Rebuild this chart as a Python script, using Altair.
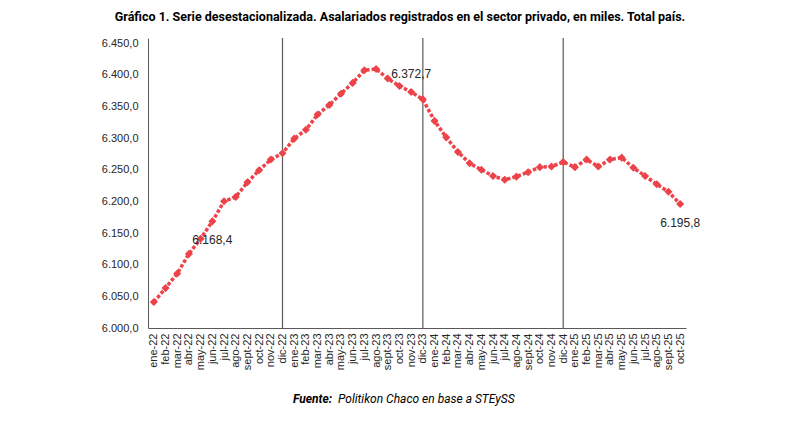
import altair as alt
import pandas as pd

months = [
    "ene-22", "feb-22", "mar-22", "abr-22", "may-22", "jun-22", "jul-22", "ago-22", "sept-22", "oct-22", "nov-22", "dic-22",
    "ene-23", "feb-23", "mar-23", "abr-23", "may-23", "jun-23", "jul-23", "ago-23", "sept-23", "oct-23", "nov-23", "dic-23",
    "ene-24", "feb-24", "mar-24", "abr-24", "may-24", "jun-24", "jul-24", "ago-24", "sept-24", "oct-24", "nov-24", "dic-24",
    "ene-25", "feb-25", "mar-25", "abr-25", "may-25", "jun-25", "jul-25", "ago-25", "sept-25", "oct-25",
]
values = [
    6041.0, 6063.0, 6086.0, 6117.0, 6141.0, 6168.4, 6200.0, 6207.0, 6230.0, 6249.0, 6266.0, 6276.0,
    6299.0, 6313.0, 6337.0, 6352.0, 6370.0, 6387.0, 6407.0, 6409.0, 6394.0, 6382.0, 6372.7, 6361.0,
    6327.0, 6301.0, 6278.0, 6260.0, 6250.0, 6240.0, 6234.0, 6239.0, 6246.0, 6254.0, 6255.0, 6262.0,
    6254.0, 6266.0, 6255.0, 6266.0, 6269.0, 6253.0, 6240.0, 6227.0, 6215.0, 6195.8,
]
labels_below = ["jun-22", "oct-25"]
labels_above = ["nov-23"]
year_breaks = ["dic-22", "dic-23", "dic-24"]
y_ticks = [6000, 6050, 6100, 6150, 6200, 6250, 6300, 6350, 6400, 6450]

title_text = "Gráfico 1. Serie desestacionalizada. Asalariados registrados en el sector privado, en miles. Total país."
source_bold = "Fuente:"
source_rest = "Politikon Chaco en base a STEySS"


def es_fmt(v):
    s = f"{v:,.1f}"
    return s.replace(",", "#").replace(".", ",").replace("#", ".")


df = pd.DataFrame({"mes": months, "valor": values})
df["etiqueta"] = [es_fmt(v) for v in values]
df["below"] = df["mes"].isin(labels_below)
df["above"] = df["mes"].isin(labels_above)

breaks_df = pd.DataFrame({"mes": year_breaks})

RED = "#EC434A"
W, H = 538, 290

x_enc = alt.X(
    "mes:O",
    sort=months,
    scale=alt.Scale(type="point", padding=0.5),
    axis=alt.Axis(
        title=None, labelAngle=-90, labelFontSize=11, labelColor="#262626",
        labelFont="Liberation Sans", ticks=False, domainColor="#595959",
        labelPadding=5, labelBaseline="middle", labelOverlap=False,
    ),
)
y_enc = alt.Y(
    "valor:Q",
    scale=alt.Scale(domain=[6000, 6457.9], nice=False, zero=False),
    axis=alt.Axis(
        title=None, values=y_ticks, grid=False, ticks=False, domainColor="#595959",
        labelFontSize=11, labelColor="#262626", labelFont="Liberation Sans", labelPadding=10,
        labelOverlap=False,
        labelExpr="replace(replace(replace(format(datum.value, ',.1f'), ',', '#'), '.', ','), '#', '.')",
    ),
)

base = alt.Chart(df)

rules = alt.Chart(breaks_df).mark_rule(color="#595959", strokeWidth=1.2).encode(x=x_enc)

line = base.mark_line(color=RED, strokeWidth=3.5, strokeDash=[3.5, 2]).encode(x=x_enc, y=y_enc)
points = base.mark_point(shape="diamond", filled=True, color=RED, size=65, opacity=1).encode(
    x=x_enc, y=y_enc
)

lbl_below = base.transform_filter("datum.below").mark_text(
    dy=19, fontSize=12, font="Liberation Sans", color="#262626"
).encode(x=x_enc, y=y_enc, text="etiqueta:N")
lbl_above = base.transform_filter("datum.above").mark_text(
    dy=-18, fontSize=12, font="Liberation Sans", color="#262626"
).encode(x=x_enc, y=y_enc, text="etiqueta:N")

title = alt.Chart(pd.DataFrame({"t": [title_text]})).mark_text(
    font="Roboto", fontWeight="bold", fontSize=12.5, color="#000000", align="center", baseline="middle",
).encode(x=alt.value(252), y=alt.value(-21), text="t:N")

src1 = alt.Chart(pd.DataFrame({"t": [source_bold]})).mark_text(
    font="Roboto", fontWeight="bold", fontStyle="italic", fontSize=12, color="#000000",
    align="left", baseline="middle",
).encode(x=alt.value(145), y=alt.value(361), text="t:N")
src2 = alt.Chart(pd.DataFrame({"t": [source_rest]})).mark_text(
    font="Roboto", fontStyle="italic", fontSize=12, color="#000000", align="left", baseline="middle",
).encode(x=alt.value(190), y=alt.value(361), text="t:N")

chart = alt.layer(rules, line, points, lbl_below, lbl_above, title, src1, src2).properties(
    width=W, height=H,
    background="white",
    autosize=alt.AutoSizeParams(type="none"),
    padding={"left": 140, "top": 30, "right": 60, "bottom": 80},
).configure_view(stroke=None)

chart.save("out.html", embed_options={"renderer": "svg", "actions": False})
